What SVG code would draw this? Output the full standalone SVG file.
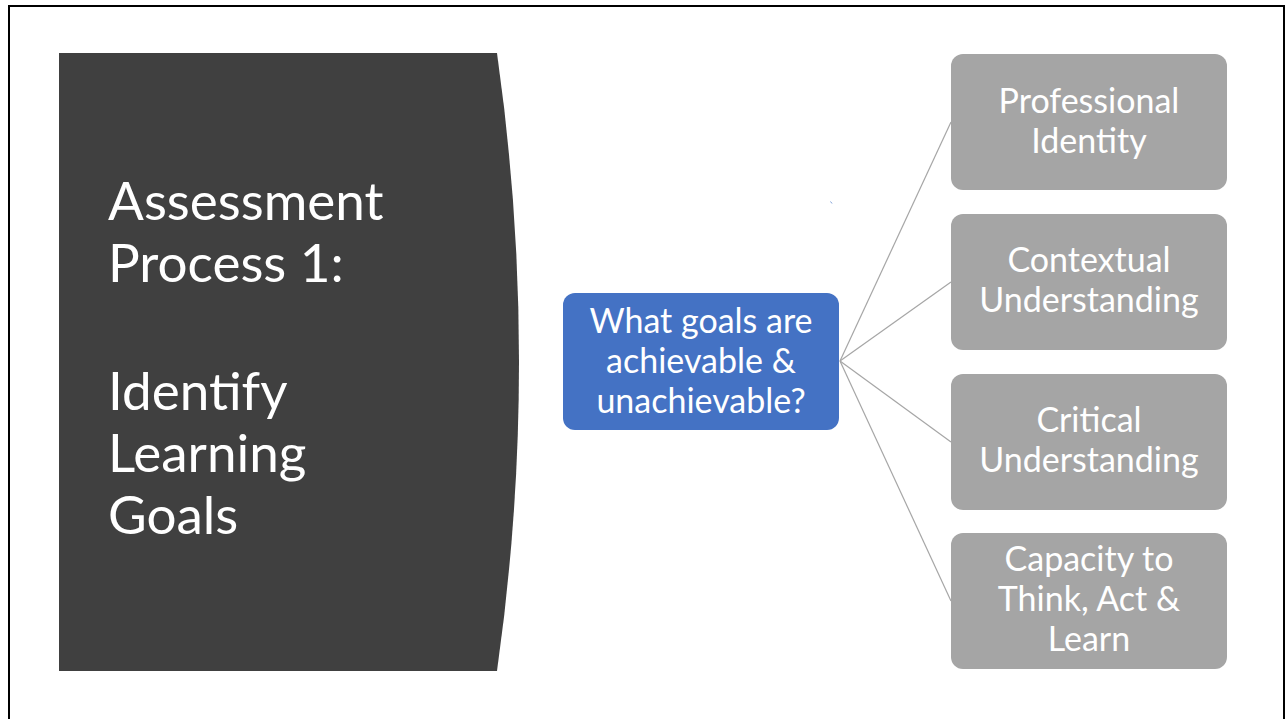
<svg xmlns="http://www.w3.org/2000/svg" width="1286" height="719" viewBox="0 0 1286 719">
<style>
.t{font-family:Lato,"Open Sans","Liberation Sans",sans-serif;fill:#fff}
.big{font-size:53px}
.mid{font-size:34px;text-anchor:middle}
.g{fill:#a5a5a5}
.c{stroke:#a6a6a6;stroke-width:1.2;fill:none}
</style>
<rect x="0" y="0" width="1286" height="719" fill="#fff"/>
<path d="M9,720 V6 H1284 V720" fill="none" stroke="#000" stroke-width="2"/>
<g id="title">
<path d="M59,53 H497 Q541,362 497,671 H59 Z" fill="#404040"/>
<text class="t big" x="108" y="220">Assessment</text>
<text class="t big" x="108" y="282">Process 1:</text>
<text class="t big" x="108" y="410">Identify</text>
<text class="t big" x="108" y="472">Learning</text>
<text class="t big" x="108" y="534">Goals</text>
</g>
<g id="connectors">
<line class="c" x1="840" y1="361" x2="951" y2="122"/>
<line class="c" x1="840" y1="361" x2="951" y2="282"/>
<line class="c" x1="840" y1="361" x2="951" y2="442"/>
<line class="c" x1="840" y1="361" x2="951" y2="601"/>
</g>
<g id="question">
<rect x="563" y="293" width="276" height="137" rx="12" fill="#4472c4"/>
<text class="t mid" x="701" y="333">What goals are</text>
<text class="t mid" x="701" y="373">achievable &amp;</text>
<text class="t mid" x="701" y="413">unachievable?</text>
</g>
<g id="goal1">
<rect class="g" x="951" y="54" width="276" height="136" rx="12"/>
<text class="t mid" x="1089" y="113">Professional</text>
<text class="t mid" x="1089" y="153">Identity</text>
</g>
<g id="goal2">
<rect class="g" x="951" y="214" width="276" height="136" rx="12"/>
<text class="t mid" x="1089" y="272">Contextual</text>
<text class="t mid" x="1089" y="312">Understanding</text>
</g>
<g id="goal3">
<rect class="g" x="951" y="374" width="276" height="136" rx="12"/>
<text class="t mid" x="1089" y="432">Critical</text>
<text class="t mid" x="1089" y="472">Understanding</text>
</g>
<g id="goal4">
<rect class="g" x="951" y="533" width="276" height="136" rx="12"/>
<text class="t mid" x="1089" y="571">Capacity to</text>
<text class="t mid" x="1089" y="611">Think, Act &amp;</text>
<text class="t mid" x="1089" y="651">Learn</text>
</g>
<line x1="830.5" y1="201.5" x2="832" y2="203.5" stroke="#7f9fd8" stroke-width="1"/>
</svg>
